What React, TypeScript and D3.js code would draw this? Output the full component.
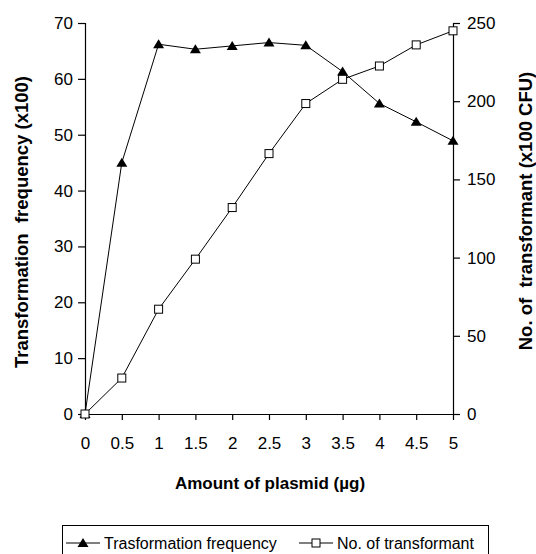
import React, { useEffect, useRef } from 'react';
import * as d3 from 'd3';

// amount of plasmid (µg)
const amounts = [0, 0.5, 1, 1.5, 2, 2.5, 3, 3.5, 4, 4.5, 5];
// transformation frequency (x100), left axis
const frequency = [0, 45, 66.2, 65.3, 65.9, 66.5, 66.0, 61.3, 55.6, 52.3, 48.9];
// no. of transformant (x100 CFU), right axis
const transformants = [0, 23, 67, 99, 132, 166.5, 198.5, 214, 222.5, 236, 245];

const leftTicks = [0, 10, 20, 30, 40, 50, 60, 70];
const rightTicks = [0, 50, 100, 150, 200, 250];
const xTickLabels = ['0', '0.5', '1', '1.5', '2', '2.5', '3', '3.5', '4', '4.5', '5'];

const legendLabels = ['Trasformation frequency', 'No. of transformant'];

const W = 536;
const H = 554;
const FONT = "Arial, 'Liberation Sans', sans-serif";
const TRI = 'M0,-5L5.5,4L-5.5,4Z';

const App = () => {
  const ref = useRef<SVGSVGElement>(null);

  useEffect(() => {
    const svg = d3.select(ref.current);
    svg.selectAll('*').remove();

    const left = 85, right = 453, top = 23, bottom = 414;

    const x = d3.scaleLinear().domain([0, 5]).range([left, right]);
    const yL = d3.scaleLinear().domain([0, 70]).range([bottom, top]);
    const yR = d3.scaleLinear().domain([0, 250]).range([bottom, top]);

    // x axis
    const xAxis = d3.axisBottom(x)
      .tickValues(amounts)
      .tickFormat((d, i) => xTickLabels[i])
      .tickSize(6)
      .tickPadding(17);
    const gx = svg.append('g').attr('transform', `translate(0,${bottom})`).call(xAxis);

    const yAxisL = d3.axisLeft(yL).tickValues(leftTicks).tickSize(7).tickPadding(5);
    const gyl = svg.append('g').attr('transform', `translate(${left},0)`).call(yAxisL);

    const yAxisR = d3.axisRight(yR).tickValues(rightTicks).tickSize(7).tickPadding(7);
    const gyr = svg.append('g').attr('transform', `translate(${right},0)`).call(yAxisR);

    [gx, gyl, gyr].forEach(g => {
      g.select('.domain').attr('stroke', '#000').attr('stroke-width', 1.2);
      g.selectAll('.tick line').attr('stroke', '#000').attr('stroke-width', 1.2);
      g.selectAll('.tick text')
        .attr('fill', '#000')
        .style('font-family', FONT)
        .style('font-size', '17px');
    });
    // no outer ticks on the domain paths
    gx.select('.domain').attr('d', `M${left},0.5H${right}`);
    gyl.select('.domain').attr('d', `M0.5,${top}V${bottom}`);
    gyr.select('.domain').attr('d', `M0.5,${top}V${bottom}`);

    // series
    const lineL = d3.line<number>().x((d, i) => x(amounts[i])).y(d => yL(d));
    const lineR = d3.line<number>().x((d, i) => x(amounts[i])).y(d => yR(d));

    svg.append('path').datum(frequency)
      .attr('d', lineL).attr('fill', 'none').attr('stroke', '#000').attr('stroke-width', 1);
    svg.selectAll('.tri').data(frequency).enter().append('path')
      .attr('d', TRI)
      .attr('transform', (d, i) => `translate(${x(amounts[i])},${yL(d)})`)
      .attr('fill', '#000');

    svg.append('path').datum(transformants)
      .attr('d', lineR).attr('fill', 'none').attr('stroke', '#000').attr('stroke-width', 1);
    svg.selectAll('.sq').data(transformants).enter().append('rect')
      .attr('x', (d, i) => x(amounts[i]) - 4)
      .attr('y', d => yR(d) - 4)
      .attr('width', 8).attr('height', 8)
      .attr('fill', '#fff').attr('stroke', '#000').attr('stroke-width', 1);

    // axis titles
    svg.append('text')
      .attr('x', 270).attr('y', 489)
      .attr('text-anchor', 'middle')
      .style('font-family', FONT).style('font-weight', 'bold').style('font-size', '17px')
      .text('Amount of plasmid (µg)');

    svg.append('text')
      .attr('transform', `translate(28,222) rotate(-90)`)
      .attr('text-anchor', 'middle')
      .style('font-family', FONT).style('font-weight', 'bold').style('font-size', '18.5px')
      .style('white-space', 'pre')
      .text('Transformation  frequency (x100)');

    svg.append('text')
      .attr('transform', `translate(532,211) rotate(-90)`)
      .attr('text-anchor', 'middle')
      .style('font-family', FONT).style('font-weight', 'bold').style('font-size', '18.5px')
      .style('white-space', 'pre')
      .text('No. of  transformant (x100 CFU)');

    // legend
    const lg = svg.append('g');
    lg.append('rect')
      .attr('x', 62.5).attr('y', 525.5).attr('width', 426).attr('height', 40)
      .attr('fill', '#fff').attr('stroke', '#000').attr('stroke-width', 1);
    const ly = 543;
    const items = [
      { x0: 66, text: legendLabels[0], tri: true },
      { x0: 299, text: legendLabels[1], tri: false },
    ];
    items.forEach(it => {
      lg.append('line').attr('x1', it.x0).attr('x2', it.x0 + 34).attr('y1', ly).attr('y2', ly)
        .attr('stroke', '#000').attr('stroke-width', 1);
      if (it.tri) {
        lg.append('path').attr('d', TRI).attr('transform', `translate(${it.x0 + 17},${ly})`).attr('fill', '#000');
      } else {
        lg.append('rect').attr('x', it.x0 + 13).attr('y', ly - 4).attr('width', 8).attr('height', 8)
          .attr('fill', '#fff').attr('stroke', '#000');
      }
      lg.append('text')
        .attr('x', it.x0 + 38).attr('y', ly + 6)
        .style('font-family', FONT).style('font-size', '16px')
        .text(it.text);
    });
  }, []);

  return (
    <svg ref={ref} width={W} height={H}
      style={{ position: 'absolute', left: 0, top: 0, background: '#fff' }} />
  );
};

export default App;
